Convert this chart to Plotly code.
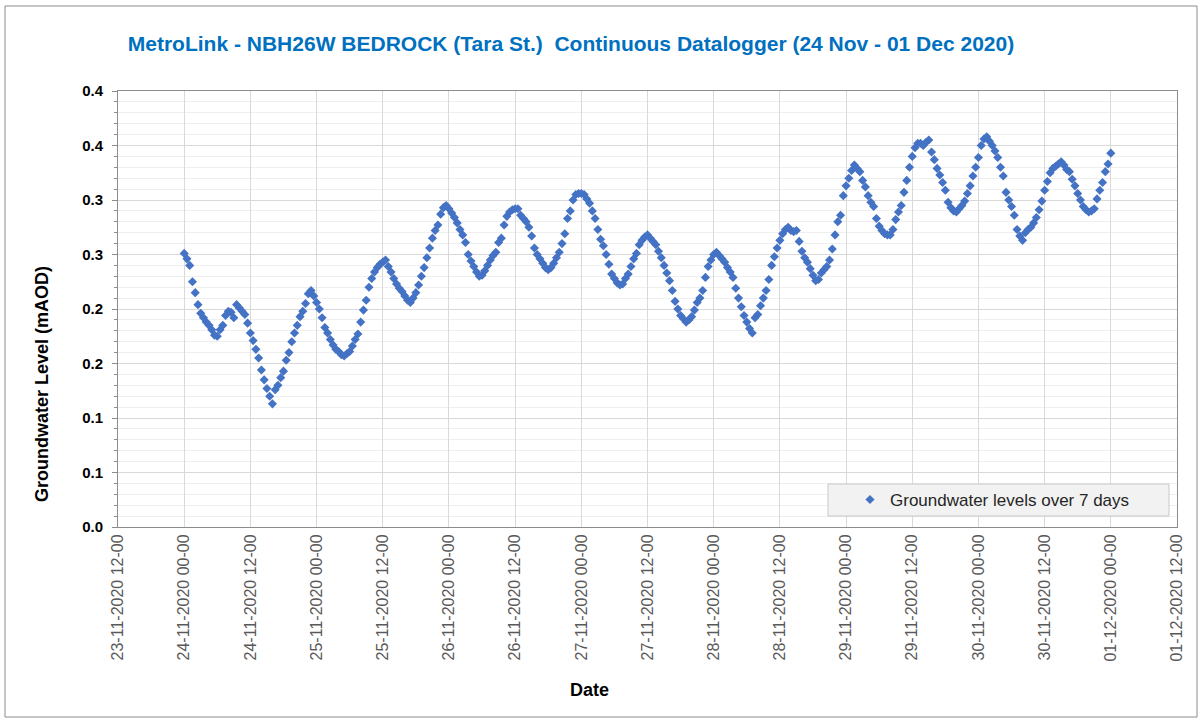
import pandas as pd
import plotly.graph_objects as go

# ---- data (30-minute readings, 24-11-2020 00:00 to 01-12-2020 00:00) ----
start_time = "2020-11-24 00:00"
interval = "30min"
level_mAOD = [
    0.251, 0.246, 0.240, 0.225, 0.215, 0.204, 0.196, 0.192, 0.188, 0.185,
    0.181, 0.176, 0.175, 0.181, 0.185, 0.194, 0.198, 0.197, 0.192, 0.204,
    0.201, 0.198, 0.195, 0.187, 0.178, 0.171, 0.163, 0.155, 0.144, 0.135,
    0.127, 0.120, 0.113, 0.126, 0.130, 0.137, 0.143, 0.153, 0.160, 0.170,
    0.178, 0.185, 0.193, 0.198, 0.205, 0.214, 0.217, 0.212, 0.206, 0.200,
    0.192, 0.183, 0.178, 0.172, 0.167, 0.163, 0.161, 0.158, 0.157, 0.159,
    0.161, 0.166, 0.172, 0.177, 0.188, 0.199, 0.208, 0.220, 0.228, 0.234,
    0.238, 0.241, 0.243, 0.245, 0.239, 0.234, 0.228, 0.223, 0.219, 0.216,
    0.212, 0.208, 0.206, 0.210, 0.215, 0.222, 0.230, 0.238, 0.247, 0.256,
    0.265, 0.272, 0.277, 0.287, 0.293, 0.295, 0.292, 0.288, 0.284, 0.279,
    0.273, 0.268, 0.261, 0.250, 0.244, 0.239, 0.234, 0.230, 0.231, 0.235,
    0.240, 0.245, 0.249, 0.252, 0.261, 0.265, 0.277, 0.285, 0.289, 0.291,
    0.292, 0.292, 0.286, 0.283, 0.280, 0.275, 0.267, 0.256, 0.250, 0.246,
    0.242, 0.238, 0.236, 0.238, 0.242, 0.247, 0.252, 0.260, 0.269, 0.283,
    0.290, 0.300, 0.305, 0.306, 0.306, 0.305, 0.301, 0.297, 0.290, 0.283,
    0.273, 0.264, 0.258, 0.250, 0.241, 0.232, 0.228, 0.224, 0.222, 0.223,
    0.228, 0.232, 0.239, 0.246, 0.251, 0.259, 0.263, 0.266, 0.268, 0.265,
    0.262, 0.259, 0.253, 0.247, 0.240, 0.233, 0.226, 0.217, 0.207, 0.200,
    0.194, 0.191, 0.188, 0.190, 0.193, 0.199, 0.206, 0.210, 0.217, 0.229,
    0.239, 0.245, 0.250, 0.252, 0.249, 0.246, 0.243, 0.238, 0.234, 0.229,
    0.219, 0.210, 0.202, 0.194, 0.188, 0.182, 0.178, 0.192, 0.195, 0.203,
    0.210, 0.217, 0.227, 0.240, 0.248, 0.256, 0.263, 0.269, 0.273, 0.275,
    0.272, 0.271, 0.272, 0.262, 0.253, 0.247, 0.243, 0.237, 0.231, 0.226,
    0.227, 0.233, 0.236, 0.239, 0.245, 0.255, 0.268, 0.280, 0.286, 0.304,
    0.313, 0.320, 0.327, 0.332, 0.329, 0.326, 0.318, 0.312, 0.304, 0.298,
    0.294, 0.283, 0.276, 0.272, 0.269, 0.268, 0.268, 0.273, 0.282, 0.289,
    0.295, 0.307, 0.318, 0.330, 0.340, 0.348, 0.352, 0.352, 0.350, 0.353,
    0.355, 0.344, 0.337, 0.329, 0.323, 0.316, 0.309, 0.298, 0.293, 0.290,
    0.289, 0.292, 0.295, 0.299, 0.306, 0.313, 0.322, 0.330, 0.339, 0.350,
    0.356, 0.358, 0.354, 0.350, 0.345, 0.339, 0.330, 0.322, 0.307, 0.300,
    0.294, 0.286, 0.273, 0.267, 0.263, 0.270, 0.273, 0.275, 0.279, 0.284,
    0.291, 0.299, 0.309, 0.317, 0.325, 0.329, 0.331, 0.333, 0.335, 0.332,
    0.328, 0.326, 0.319, 0.313, 0.306, 0.300, 0.294, 0.291, 0.289, 0.290,
    0.292, 0.301, 0.309, 0.316, 0.326, 0.333, 0.343,
]
timestamps = pd.date_range(start=start_time, periods=len(level_mAOD), freq=interval)

y_tick_values = [0.0, 0.05, 0.10, 0.15, 0.20, 0.25, 0.30, 0.35, 0.40]
y_tick_labels = ["0.0", "0.1", "0.1", "0.2", "0.2", "0.3", "0.3", "0.4", "0.4"]

x_range = ["2020-11-23 12:00", "2020-12-01 12:00"]

title_text = "MetroLink - NBH26W BEDROCK (Tara St.)  Continuous Datalogger (24 Nov - 01 Dec 2020)"
series_name = "Groundwater levels over 7 days"
y_title = "Groundwater Level (mAOD)"
x_title = "Date"

# ---- layout geometry (pixels) ----
W, H = 1203, 720
L, R, T, B = 118, 26, 91, 193
pw, ph = W - L - R, H - T - B


def px_x(px):
    return (px - L) / pw


def px_y(py):
    return (H - B - py) / ph


FONT = "Liberation Sans, Arial, sans-serif"

fig = go.Figure()
fig.add_trace(go.Scatter(
    x=timestamps, y=level_mAOD, mode="markers", name=series_name,
    marker=dict(symbol="diamond", size=7, color="#4472C4"),
))

fig.update_layout(
    width=W, height=H,
    margin=dict(l=L, r=R, t=T, b=B, autoexpand=False),
    paper_bgcolor="white", plot_bgcolor="white",
    font=dict(family=FONT, color="#595959"),
    title=dict(text=f"<b>{title_text}</b>", x=571 / W, xanchor="center",
               y=1 - 44 / H, yanchor="middle",
               font=dict(family=FONT, size=21, color="#0070C0")),
    showlegend=True,
    legend=dict(x=px_x(850), y=px_y(500), xanchor="left", yanchor="middle",
                bgcolor="rgba(0,0,0,0)", borderwidth=0, itemwidth=30,
                font=dict(family=FONT, size=17, color="#262626")),
)

fig.update_xaxes(
    type="date", range=x_range, tick0="2020-11-23 12:00", dtick=12 * 3600 * 1000,
    tickformat="%d-%m-%Y %H-%M", tickangle=-90,
    tickfont=dict(family=FONT, size=16, color="#595959"),
    showgrid=True, gridcolor="#d9d9d9", gridwidth=1,
    showline=True, linecolor="#8c8c8c", linewidth=1, mirror=True,
    ticks="", zeroline=False,
)
fig.update_yaxes(
    range=[0, 0.4], tickmode="array", tickvals=y_tick_values, ticktext=y_tick_labels,
    tickfont=dict(family=FONT, size=15, color="#000000", weight="bold"),
    ticklabelstandoff=6,
    showgrid=True, gridcolor="#d9d9d9", gridwidth=1,
    showline=True, linecolor="#8c8c8c", linewidth=1, mirror=True,
    ticks="outside", ticklen=5, tickcolor="#8c8c8c",
    minor=dict(tickmode="linear", tick0=0, dtick=0.01, showgrid=True,
               gridcolor="#efefef", ticks="outside", ticklen=3, tickcolor="#8c8c8c"),
    zeroline=False,
)

# axis titles
fig.add_annotation(text=f"<b>{y_title}</b>", xref="paper", yref="paper",
                   x=px_x(42), y=px_y(384), textangle=-90, showarrow=False,
                   xanchor="center", yanchor="middle",
                   font=dict(family=FONT, size=18, color="#000000"))
fig.add_annotation(text=f"<b>{x_title}</b>", xref="paper", yref="paper",
                   x=px_x(589), y=px_y(690), showarrow=False,
                   xanchor="center", yanchor="middle",
                   font=dict(family=FONT, size=18, color="#000000"))

# legend box and outer chart border
fig.add_shape(type="rect", xref="paper", yref="paper",
              x0=px_x(828), x1=px_x(1169), y0=px_y(516), y1=px_y(484),
              fillcolor="#f2f2f2", line=dict(color="#c8c8c8", width=1), layer="above")
fig.add_shape(type="rect", xref="paper", yref="paper",
              x0=px_x(5), x1=px_x(1197), y0=px_y(717), y1=px_y(6),
              fillcolor="rgba(0,0,0,0)", line=dict(color="#8c8c8c", width=1))

fig.write_html("out.html",
               config={"displayModeBar": False},
               post_script="document.body.style.margin='0';document.body.style.overflow='hidden';")
